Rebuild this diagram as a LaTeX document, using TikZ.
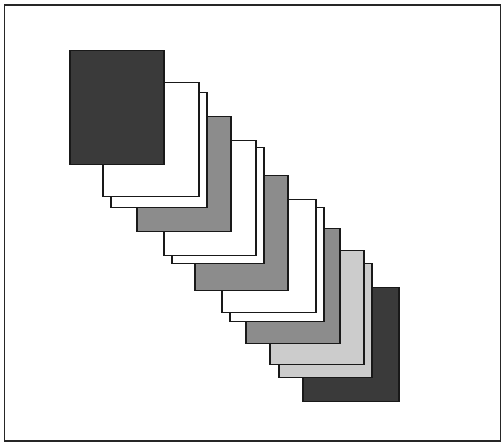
\documentclass[tikz,border=0pt]{standalone}
\usepackage{tikz}
\usetikzlibrary{positioning}
\usepackage{xcolor}
\definecolor{darkfill}{RGB}{58,58,58}
\definecolor{midfill}{RGB}{140,140,140}
\definecolor{lightfill}{RGB}{204,204,204}
\tikzset{
  sheet/.style={rectangle,draw=black!90,line width=1.5pt,inner sep=0pt,anchor=north west}
}
\begin{document}
\begin{tikzpicture}[x=1pt,y=-1pt]
\useasboundingbox (0,0) rectangle (501,443);
\draw[line width=1.3pt,draw=black!85] (4.5,5) rectangle (500.5,441);
% sheets, back to front
\foreach \n/\x/\y/\w/\h/\c in {13/302/287/96/114/darkfill,12/278/263/93/114/lightfill,
  11/269/250/94/114/lightfill,10/245/228/94/115/midfill,9/229/207/94/114/white,
  8/221/199/94/113/white,7/194/175/93/115/midfill,6/171/147/92/116/white,
  5/163/140/92/115/white,4/136/116/94/115/midfill,3/110/92/96/115/white,
  2/102/82/96/114/white,1/69/50/94/114/darkfill}
  \node[sheet,fill=\c,minimum width=\w pt,minimum height=\h pt] (sheet\n) at (\x,\y) {};
\end{tikzpicture}
\end{document}
